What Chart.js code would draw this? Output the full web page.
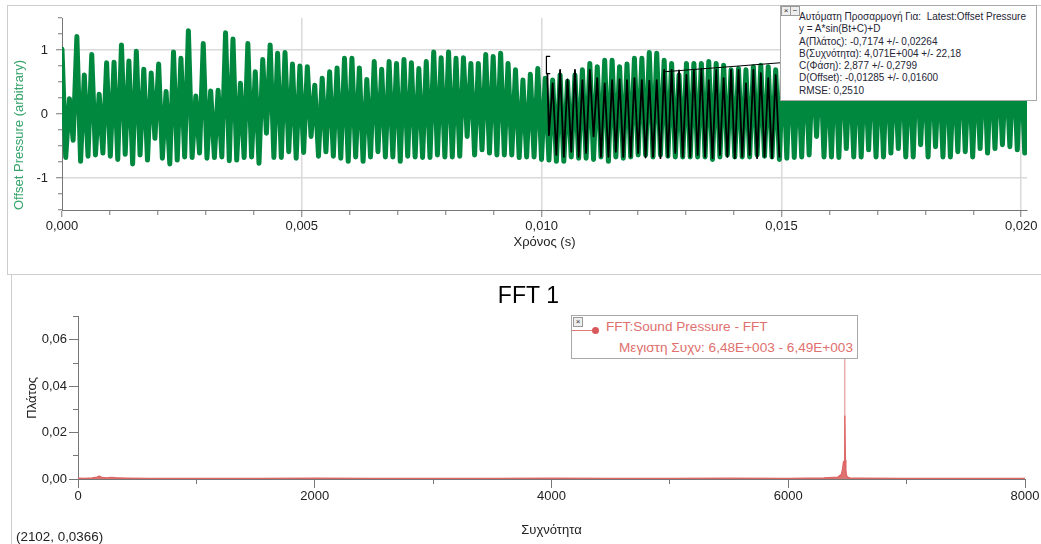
<!DOCTYPE html>
<html>
<head>
<meta charset="utf-8">
<script src="https://cdn.jsdelivr.net/npm/chart.js@4.4.1/dist/chart.umd.min.js"></script>
<style>
html,body{margin:0;padding:0;background:#fff;width:1041px;height:544px;overflow:hidden;font-family:'Liberation Sans',Arial,sans-serif;}
#wrap{position:relative;width:1041px;height:544px;}
.abs{position:absolute;}
#topPanel{left:7px;top:5px;width:1040px;height:270px;border:1px solid #cdcdcd;border-right:none;box-sizing:border-box;}
#botPanelLeft{left:11px;top:275px;width:1px;height:269px;background:#cdcdcd;}
canvas{position:absolute;left:0;}
#topCanvas{top:0;}
#botCanvas{top:275px;}
#fitBox{left:780px;top:5px;width:257px;height:96px;border:1px solid #a8a8a8;background:#fff;box-sizing:border-box;}
#fitText{position:absolute;left:18px;top:5px;font-size:10px;line-height:12.3px;color:#262636;white-space:pre;}
.btn{position:absolute;top:0;width:8px;height:8px;border:1px solid #9a9a9a;background:#eee;font-size:8px;line-height:8px;text-align:center;color:#333;}
#legBox{left:571px;top:315px;width:287px;height:44px;border:1px solid #a8a8a8;background:#fff;box-sizing:border-box;}
#legLine{position:absolute;left:0;top:14px;width:24px;height:1px;background:#e07a78;}
#legDot{position:absolute;left:20px;top:11px;width:7px;height:7px;border-radius:50%;background:#d9585a;}
#leg1{position:absolute;left:34px;top:2px;font-size:13.6px;line-height:18px;color:#e0706e;white-space:pre;}
#leg2{position:absolute;right:4px;top:23px;font-size:13.6px;line-height:18px;color:#e0706e;white-space:pre;}
#status{left:16px;top:529px;font-size:13.4px;line-height:16px;color:#222;white-space:pre;}
</style>
</head>
<body>
<div id="wrap">
  <div id="topPanel" class="abs"></div>
  <div id="botPanelLeft" class="abs"></div>
  <canvas id="topCanvas" width="1041" height="270"></canvas>
  <canvas id="botCanvas" width="1041" height="269"></canvas>
  <div id="fitBox" class="abs">
    <div class="btn" style="left:0">×</div>
    <div class="btn" style="left:9px">−</div>
    <div id="fitText">Αυτόματη Προσαρμογή Για:  Latest:Offset Pressure
y = A*sin(Bt+C)+D
A(Πλάτος): -0,7174 +/- 0,02264
B(Συχνότητα): 4,071E+004 +/- 22,18
C(Φάση): 2,877 +/- 0,2799
D(Offset): -0,01285 +/- 0,01600
RMSE: 0,2510</div>
  </div>
  <div id="legBox" class="abs">
    <div class="btn" style="left:1px;top:1px">×</div>
    <div id="legLine"></div>
    <div id="legDot"></div>
    <div id="leg1">FFT:Sound Pressure - FFT</div>
    <div id="leg2">Μεγιστη Συχν: 6,48E+003 - 6,49E+003</div>
  </div>
  <div id="status" class="abs">(2102, 0,0366)</div>
</div>
<script>
// ---------- Top chart data (Offset Pressure vs time) ----------
const sampleStep = 0.0000775; // s between successive peak / trough samples
const peakValues = [
  1.01, 0.24, 1.21, 0.61, 0.93, 0.31, 0.80, 0.81, 1.08, 0.83, 0.98, 0.70, 0.64, 0.78, 0.35, 0.97, 0.87, 1.30, 0.28, 1.10, 0.36, 0.37,
  1.27, 1.17, 0.48, 1.10, 0.66, 0.85, 1.08, 0.95, 0.96, 0.78, 0.75, 0.74, 0.45, 0.56, 0.66, 0.72, 0.87, 0.87, 0.72, 0.54, 0.82, 0.70,
  0.82, 0.79, 0.85, 0.80, 0.71, 0.82, 0.97, 0.88, 0.97, 0.87, 0.88, 0.79, 0.79, 0.93, 0.90, 0.95, 0.79, 0.69, 0.53, 0.62, 0.71,
  0.56, 0.53, 0.61, 0.51, 0.61, 0.69, 0.79, 0.74, 0.84, 0.84, 0.74, 0.78, 0.87, 0.87, 0.96, 0.95, 0.84, 0.79, 0.61, 0.79, 0.79,
  0.79, 0.82, 0.79, 0.76, 0.69, 0.71, 0.69, 0.74, 0.76, 0.74, 0.69,
  0.88, 0.92, 0.80, 0.95, 0.86, 0.90, 0.78, 0.93, 0.97, 0.84, 0.90, 0.82, 0.96, 0.88, 0.91, 0.79, 0.94,
  0.87, 0.99, 0.83, 0.90, 0.86, 0.92, 0.80, 0.95, 0.89, 0.84, 0.97, 0.88, 0.91, 0.85, 0.93, 0.90, 0.98
];
const troughValues = [
  -0.68, -0.41, -0.74, -0.66, -0.64, -0.61, -0.66, -0.71, -0.63, -0.78, -0.64, -0.72, -0.38, -0.69, -0.78, -0.72, -0.67, -0.68, -0.61, -0.69, -0.68,
  -0.67, -0.73, -0.72, -0.68, -0.67, -0.77, -0.30, -0.68, -0.68, -0.59, -0.69, -0.60, -0.35, -0.66, -0.59, -0.66, -0.69, -0.74, -0.67, -0.74, -0.67, -0.59,
  -0.67, -0.67, -0.74, -0.66, -0.67, -0.68, -0.68, -0.64, -0.67, -0.67, -0.66, -0.35, -0.64, -0.56, -0.61, -0.64, -0.64, -0.64, -0.68, -0.67, -0.67, -0.71,
  -0.72, -0.74, -0.74, -0.67, -0.69, -0.69, -0.71, -0.67, -0.74, -0.67, -0.69, -0.67, -0.64, -0.64, -0.67, -0.64, -0.66, -0.67, -0.67, -0.67, -0.67,
  -0.67, -0.71, -0.67, -0.64, -0.67, -0.67, -0.67, -0.64, -0.66, -0.67, -0.71, -0.69, -0.68, -0.67, -0.64, -0.35, -0.67, -0.67, -0.68, -0.54, -0.67,
  -0.67, -0.56, -0.67, -0.67, -0.61, -0.54, -0.67, -0.67, -0.48, -0.67, -0.51, -0.67, -0.67, -0.59, -0.59, -0.67, -0.54, -0.61, -0.54, -0.48, -0.51, -0.56, -0.61
];
// Curve fit (black) over the selected range
const fitFirstTrough = 65;
const fitStart = { x: 0.01012, y: 0.63 };
const fitTroughs = [-0.33, -0.64, -0.67, -0.59, -0.67, -0.61, -0.35, -0.67, -0.67, -0.59, -0.67, -0.67, -0.61, -0.68, -0.67, -0.69,
  -0.67, -0.61, -0.67, -0.67, -0.64, -0.67, -0.69, -0.64, -0.67, -0.69, -0.67, -0.64, -0.69, -0.67, -0.69, -0.67];
const fitPeaks = [0.48, 0.69, 0.54, 0.69, 0.53, 0.69, 0.56, 0.48, 0.53, 0.54, 0.53, 0.56, 0.53, 0.52, 0.53, 0.69,
  0.69, 0.68, 0.61, 0.69, 0.70, 0.53, 0.69, 0.56, 0.69, 0.69, 0.48, 0.69, 0.64, 0.56, 0.61];
const bracketX = [0.01017, 0.01010, 0.01010, 0.01017];
const bracketY = [0.90, 0.90, 0.63, 0.63];
const leaderX = [0.01256, 0.01256, 0.01497];
const leaderY = [0.60, 0.66, 0.80];
const timeTicks = { min: 0, max: 0.02012, step: 0.001, labelEvery: 0.005 };
const pressureTicks = { min: -1.5, max: 1.5, step: 0.25 };

// ---------- Bottom chart data (FFT) ----------
const fftFreq = [0, 60, 120, 160, 180, 200, 240, 280, 320, 360, 420, 600, 1000, 1500, 2000, 2500, 3000, 3500, 4000, 4500,
  5000, 5500, 6000, 6300, 6420, 6450, 6460, 6468, 6474, 6478, 6482, 6486, 6492, 6500, 6520, 6600, 7000, 7500, 8000];
const fftAmp = [0.0003, 0.0002, 0.0004, 0.0008, 0.0012, 0.0006, 0.0004, 0.0007, 0.0005, 0.0004, 0.0003, 0.0002, 0.0002, 0.0002, 0.0003, 0.0002, 0.0002, 0.0002, 0.0003, 0.0002,
  0.0002, 0.0003, 0.0002, 0.0004, 0.0008, 0.0020, 0.0045, 0.0075, 0.0060, 0.0270, 0.0080, 0.0040, 0.0015, 0.0008, 0.0004, 0.0003, 0.0002, 0.0002, 0.0002];
const peakMarkerX = [6478, 6478];
const peakMarkerY = [0.0270, 0.0600];
const freqTicks = { min: 0, max: 8000, step: 1000, labelEvery: 2000 };
const ampTicks = { min: 0, max: 0.07, step: 0.01, labelEvery: 0.02 };

// ---------- helpers ----------
const FONT = "'Liberation Sans', Arial, sans-serif";
Chart.defaults.font.family = FONT;
const T = 'rgba(0,0,0,0)';
const isMult = (v, s) => Math.abs(v / s - Math.round(v / s)) < 1e-6;
const comma = (v, d) => v.toFixed(d).replace('.', ',');
const zip = (xs, ys) => xs.map((x, i) => ({ x, y: ys[i] }));

const greenData = [];
peakValues.forEach((p, i) => {
  greenData.push({ x: 2 * i * sampleStep, y: p });
  if (i < troughValues.length) greenData.push({ x: (2 * i + 1) * sampleStep, y: troughValues[i] });
});
const fitData = [fitStart];
fitTroughs.forEach((t, k) => {
  const idx = fitFirstTrough + k;
  fitData.push({ x: (2 * idx + 1) * sampleStep, y: t });
  if (k < fitPeaks.length) fitData.push({ x: 2 * (idx + 1) * sampleStep, y: fitPeaks[k] });
});

const lineDs = (data, color, width, order) => ({
  data, borderColor: color, borderWidth: width, pointRadius: 0, tension: 0,
  borderJoinStyle: 'round', borderCapStyle: 'round', order, fill: false
});

// ---------- Top chart ----------
new Chart(document.getElementById('topCanvas'), {
  type: 'line',
  data: {
    datasets: [
      lineDs(greenData, '#00883f', 5, 3),
      lineDs(fitData, '#000000', 1.8, 1),
      lineDs(zip(bracketX, bracketY), '#000000', 1.2, 0),
      lineDs(zip(leaderX, leaderY), '#000000', 1, 0)
    ]
  },
  options: {
    responsive: false, animation: false, devicePixelRatio: 1,
    layout: { padding: { left: 0, top: 18, right: 14, bottom: 0 } },
    plugins: { legend: { display: false }, tooltip: { enabled: false }, title: { display: false } },
    scales: {
      x: {
        type: 'linear', min: timeTicks.min, max: timeTicks.max,
        ticks: {
          stepSize: timeTicks.step, includeBounds: false, autoSkip: false, maxRotation: 0, padding: 2,
          color: '#222', font: { size: 13 },
          callback: v => isMult(v, timeTicks.labelEvery) ? comma(v, 3) : ''
        },
        grid: {
          color: c => (c.tick && c.tick.value > 0 && isMult(c.tick.value, timeTicks.labelEvery)) ? '#dadada' : T,
          lineWidth: 1.5, tickColor: '#777', tickLength: 7, tickWidth: 1,
          tickBorderDash: c => (c.tick && isMult(c.tick.value, timeTicks.labelEvery)) ? [] : [4, 50]
        },
        border: { color: '#777', width: 1 },
        title: { display: true, text: 'Χρόνος (s)', color: '#222', font: { size: 13 }, padding: { top: 0, bottom: 20 } },
        afterFit: s => { s.height = 60; }
      },
      y: {
        type: 'linear', min: pressureTicks.min, max: pressureTicks.max,
        ticks: {
          stepSize: pressureTicks.step, includeBounds: false, autoSkip: false, padding: 8,
          color: '#222', font: { size: 13 },
          callback: v => isMult(v, 1) ? String(Math.round(v)) : ''
        },
        grid: {
          color: c => {
            if (!c.tick) return T;
            const v = c.tick.value;
            if (Math.abs(v) < 1e-9) return '#9d9d9d';
            if (Math.abs(Math.abs(v) - 1) < 1e-9) return '#dadada';
            return T;
          },
          lineWidth: 1.5, tickColor: '#777', tickLength: 6, tickWidth: 1,
          tickBorderDash: c => (c.tick && isMult(c.tick.value, 1)) ? [] : [0, 2, 4, 50]
        },
        border: { color: '#777', width: 1 },
        title: { display: true, text: 'Offset Pressure (arbitrary)', color: '#35a36a', font: { size: 13 }, align: 'start', padding: { top: 12, bottom: 0 } },
        afterFit: s => { s.width = 62; }
      }
    }
  }
});

// ---------- Bottom chart (FFT) ----------
new Chart(document.getElementById('botCanvas'), {
  type: 'line',
  data: {
    datasets: [
      { ...lineDs(zip(fftFreq, fftAmp), '#de6664', 1.5, 1), fill: 'origin', backgroundColor: 'rgba(214,90,90,0.85)' },
      lineDs(zip(peakMarkerX, peakMarkerY), '#e08684', 1, 2)
    ]
  },
  options: {
    responsive: false, animation: false, devicePixelRatio: 1,
    layout: { padding: { left: 32, top: 0, right: 16, bottom: 0 } },
    plugins: {
      legend: { display: false }, tooltip: { enabled: false },
      title: { display: true, text: 'FFT 1', color: '#000', font: { size: 23, weight: 'normal' }, padding: { top: 8, bottom: 6 } }
    },
    scales: {
      x: {
        type: 'linear', min: freqTicks.min, max: freqTicks.max,
        ticks: {
          stepSize: freqTicks.step, autoSkip: false, maxRotation: 0, padding: 1,
          color: '#222', font: { size: 13 },
          callback: v => isMult(v, freqTicks.labelEvery) ? String(v) : ''
        },
        grid: {
          drawOnChartArea: false, color: '#777', tickColor: '#777', tickLength: 9, tickWidth: 1,
          tickBorderDash: c => (c.tick && isMult(c.tick.value, freqTicks.labelEvery)) ? [] : [4, 50]
        },
        border: { color: '#777', width: 1 },
        title: { display: true, text: 'Συχνότητα', color: '#222', font: { size: 13 }, padding: { top: 0, bottom: 6 } },
        afterFit: s => { s.height = 65; }
      },
      y: {
        type: 'linear', min: ampTicks.min, max: ampTicks.max,
        ticks: {
          stepSize: ampTicks.step, autoSkip: false, padding: 2,
          color: '#222', font: { size: 13 },
          callback: v => isMult(v, ampTicks.labelEvery) ? comma(v, 2) : ''
        },
        grid: {
          drawOnChartArea: false, color: '#777', tickColor: '#777', tickLength: 9, tickWidth: 1,
          tickBorderDash: c => (c.tick && isMult(c.tick.value, ampTicks.labelEvery)) ? [] : [0, 4, 5, 50]
        },
        border: { color: '#777', width: 1 },
        title: { display: true, text: 'Πλάτος', color: '#222', font: { size: 13 }, padding: { top: -7, bottom: 0 } },
        afterFit: s => { s.width = 46; }
      }
    }
  }
});
</script>
</body>
</html>
